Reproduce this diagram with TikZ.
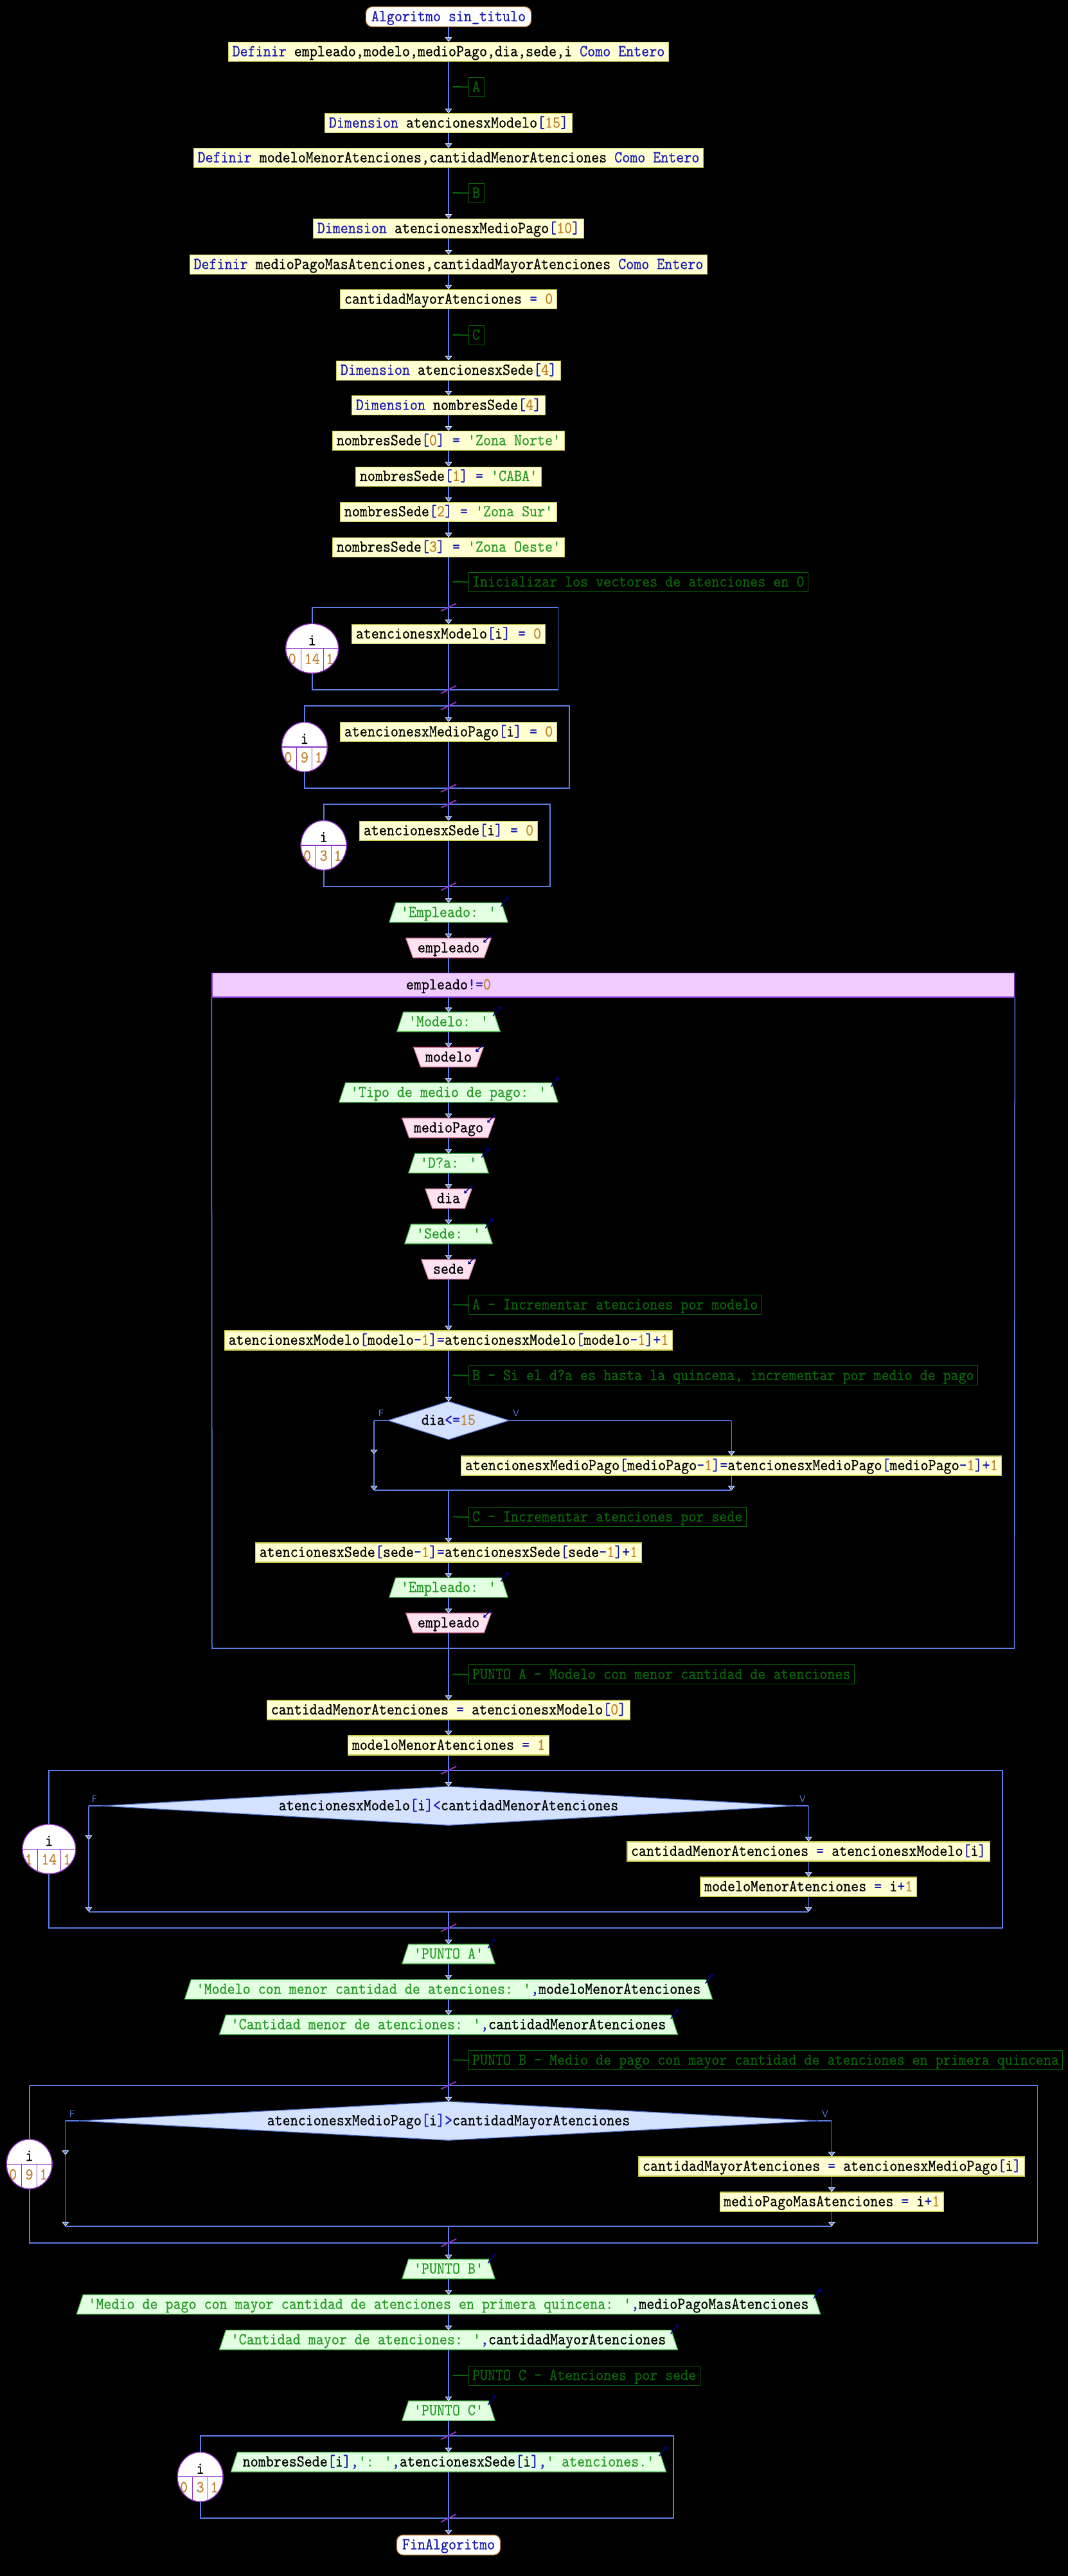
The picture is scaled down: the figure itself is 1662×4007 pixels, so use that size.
\documentclass[tikz,border=0pt]{standalone}
\usepackage{fontspec}
\newfontfamily\pmono{lmmono10-regular.otf}[FakeStretch=0.88,FakeBold=0.5,Ligatures=TeXOff]
\usetikzlibrary{arrows.meta,shapes.geometric}
\pgfdeclarelayer{bg}\pgfdeclarelayer{shapes}\pgfsetlayers{bg,shapes,main}

\definecolor{linec}{HTML}{5A7DE6}
\definecolor{kwc}{HTML}{1A1AB4}
\definecolor{numc}{HTML}{C08030}
\definecolor{strc}{HTML}{2A9A2A}
\definecolor{cmtc}{HTML}{0A640A}
\definecolor{procfill}{HTML}{FFFFD2}
\definecolor{procdraw}{HTML}{C8C850}
\definecolor{outfill}{HTML}{E2FFE2}
\definecolor{outdraw}{HTML}{50C050}
\definecolor{infill}{HTML}{FFE2F0}
\definecolor{indraw}{HTML}{E080A8}
\definecolor{whfill}{HTML}{F0CCFF}
\definecolor{whdraw}{HTML}{9040E0}
\definecolor{iffill}{HTML}{D4E2FF}
\definecolor{ifdraw}{HTML}{5070D0}
\definecolor{loopc}{HTML}{9030C8}
\definecolor{termdraw}{HTML}{C08040}
\definecolor{markc}{HTML}{000090}

% syntax colouring
\newcommand\kwd[1]{\textcolor{kwc}{#1}}
\newcommand\nmb[1]{\textcolor{numc}{#1}}
\newcommand\opr[1]{\textcolor{kwc}{#1}}
\newcommand\strg[1]{\textcolor{strc}{#1}}

\tikzset{
  base/.style={font={\pmono\fontsize{26}{28}\selectfont}, text=black, inner ysep=0pt,
    text height=18pt, text depth=4pt, minimum height=30pt},
  proc/.style={base, rectangle, fill=procfill, draw=procdraw, line width=1.2pt, inner xsep=6pt, anchor=north},
  iotext/.style={base, inner xsep=18pt, anchor=north},
  term/.style={base, rectangle, rounded corners=10pt, fill=white, draw=termdraw, line width=1.2pt,
    inner xsep=8.5pt, text=kwc, anchor=north, minimum height=31pt},
  cmt/.style={base, draw=cmtc, line width=1pt, text=cmtc, inner xsep=6pt, anchor=north west},
  cmtlink/.style={draw=cmtc, line width=2pt},
  conn/.style={draw=linec, line width=1.3pt},
  arr/.style={conn, -{Triangle[width=11pt,length=7pt,color=white,fill=linec,line width=0.8pt]}},
  frame/.style={draw=linec, line width=1.8pt},
  slash/.style={draw=loopc, line width=2pt},
  iomark/.style={draw=markc, line width=1.4pt, -{Straight Barb[length=3pt,width=5pt]}},
  brlabel/.style={font={\sffamily\fontsize{15}{15}\selectfont}, text=linec, inner sep=0pt},
  decision/.style={base, rectangle, inner xsep=0pt},
}

% process box: name, top y, centre x, text
\newcommand\Proc[4]{\node[proc] (#1) at (#3,#2) {#4};}
% output shape (wider at the bottom)
\newcommand\OutIO[4]{%
  \node[iotext] (#1) at (#3,#2) {#4};
  \begin{pgfonlayer}{shapes}
  \filldraw[fill=outfill, draw=outdraw, line width=1.2pt] (#1.south west) -- (#1.south east)
    -- ([xshift=-10pt]#1.north east) -- ([xshift=10pt]#1.north west) -- cycle;
  \end{pgfonlayer}
  \draw[iomark] ([xshift=-11pt,yshift=-6pt]#1.north east) -- ([xshift=1pt,yshift=9pt]#1.north east);}
% input shape (wider at the top)
\newcommand\InIO[4]{%
  \node[iotext] (#1) at (#3,#2) {#4};
  \begin{pgfonlayer}{shapes}
  \filldraw[fill=infill, draw=indraw, line width=1.2pt] (#1.north west) -- (#1.north east)
    -- ([xshift=-11pt]#1.south east) -- ([xshift=11pt]#1.south west) -- cycle;
  \end{pgfonlayer}
  \draw[iomark] ([xshift=1pt,yshift=6pt]#1.north east) -- ([xshift=-12pt,yshift=-7pt]#1.north east);}
% comment: name, top y, text
\newcommand\Cmt[3]{%
  \node[cmt] (#1) at (728.5,#2) {#3};
  \coordinate (#1s) at (704.5,#2+15);
  \draw[cmtlink] (#1s) -- (#1.west);}
% decision: name, centre y, centre x, half width, half height, text
\newcommand\Diam[6]{%
  \node[decision, minimum width={2*#4pt}, minimum height={2*#5pt}] (#1) at (#3,#2) {#6};
  \begin{pgfonlayer}{shapes}
  \filldraw[fill=iffill, draw=ifdraw, line width=1.2pt] (#1.west) -- (#1.north) -- (#1.east) -- (#1.south) -- cycle;
  \end{pgfonlayer}}
% loop counter: name, centre y, centre x, half cell, start, end, step
\newcommand\LoopCirc[7]{%
  \pgfmathsetmacro\lcrx{#4+23.5}
  \node[ellipse, draw=loopc, fill=white, line width=1.2pt, minimum width={2*\lcrx pt},
    minimum height=77pt, inner sep=0pt] (#1) at (#3,#2) {};
  \begin{scope}
    \clip (#1.center) ellipse [x radius=\lcrx pt, y radius=38.5pt];
    \draw[loopc, line width=1.2pt] (#3-\lcrx,#2) -- (#3+\lcrx,#2);
    \draw[loopc, line width=1pt] (#3-#4,#2) -- (#3-#4,#2+40);
    \draw[loopc, line width=1pt] (#3+#4,#2) -- (#3+#4,#2+40);
    \node[base] at (#3,#2-12) {i};
    \node[base, text=numc] at (#3-#4-13.5,#2+17) {#5};
    \node[base, text=numc] at (#3,#2+17) {#6};
    \node[base, text=numc] at (#3+#4+10,#2+17) {#7};
  \end{scope}
  \draw[loopc, line width=1.2pt] (#1.center) ellipse [x radius=\lcrx pt, y radius=38.5pt];}
% loop cut mark on the main line
\newcommand\Slash[1]{\draw[slash] (686,#1+6) -- (710,#1-6);}

\begin{document}
\begin{tikzpicture}[x=1pt,y=-1pt]
\begin{pgfonlayer}{bg}
  \fill[black] (0,0) rectangle (1662,4007);
\end{pgfonlayer}
\useasboundingbox (0,0) rectangle (1662,4007);

% ---------- declarations ----------
\node[term] (start) at (698,10) {Algoritmo sin\_titulo};
\Proc{def1}{65}{698}{\kwd{Definir} empleado,modelo,medioPago,dia,sede,i \kwd{Como Entero}}
\Cmt{cA}{120}{A}
\Proc{dim1}{176}{698}{\kwd{Dimension} atencionesxModelo\opr{[}\nmb{15}\opr{]}}
\Proc{def2}{230}{698}{\kwd{Definir} modeloMenorAtenciones,cantidadMenorAtenciones \kwd{Como Entero}}
\Cmt{cB}{285}{B}
\Proc{dim2}{340}{698}{\kwd{Dimension} atencionesxMedioPago\opr{[}\nmb{10}\opr{]}}
\Proc{def3}{396}{698}{\kwd{Definir} medioPagoMasAtenciones,cantidadMayorAtenciones \kwd{Como Entero}}
\Proc{asgMay}{450}{698}{cantidadMayorAtenciones \opr{=} \nmb{0}}
\Cmt{cC}{506}{C}
\Proc{dim3}{560.5}{698}{\kwd{Dimension} atencionesxSede\opr{[}\nmb{4}\opr{]}}
\Proc{dim4}{615}{698}{\kwd{Dimension} nombresSede\opr{[}\nmb{4}\opr{]}}
\Proc{ns0}{670}{698}{nombresSede\opr{[}\nmb{0}\opr{]} \opr{=} \strg{'Zona Norte'}}
\Proc{ns1}{725.5}{698}{nombresSede\opr{[}\nmb{1}\opr{]} \opr{=} \strg{'CABA'}}
\Proc{ns2}{780.6}{698}{nombresSede\opr{[}\nmb{2}\opr{]} \opr{=} \strg{'Zona Sur'}}
\Proc{ns3}{835.7}{698}{nombresSede\opr{[}\nmb{3}\opr{]} \opr{=} \strg{'Zona Oeste'}}
\Cmt{cInit}{890}{Inicializar los vectores de atenciones en 0}

% ---------- initialisation loops ----------
\draw[frame] (485.7,944.7) rectangle (868.4,1072.7);
\draw[frame] (473.9,1098) rectangle (886,1226);
\draw[frame] (503.7,1250.7) rectangle (856,1379);
\Proc{f1b}{970.7}{698}{atencionesxModelo\opr{[}i\opr{]} \opr{=} \nmb{0}}
\Proc{f2b}{1123}{698}{atencionesxMedioPago\opr{[}i\opr{]} \opr{=} \nmb{0}}
\Proc{f3b}{1276.7}{698}{atencionesxSede\opr{[}i\opr{]} \opr{=} \nmb{0}}
\LoopCirc{lc1}{1008.7}{485.7}{17.5}{0}{14}{1}
\LoopCirc{lc2}{1162}{473.9}{12}{0}{9}{1}
\LoopCirc{lc3}{1314.9}{503.7}{12}{0}{3}{1}

% ---------- reading loop ----------
\OutIO{oE1}{1404.3}{698}{\strg{'Empleado: '}}
\InIO{iE1}{1459.3}{698}{empleado}
\node[rectangle, fill=whfill, draw=whdraw, line width=1.5pt, minimum width=1248.6pt,
  minimum height=37.7pt, inner sep=0pt] (whbar) at (954.3,1532.15) {};
\node[base, minimum height=37.7pt] (wh) at (698,1532.15) {empleado\opr{!=}\nmb{0}};
\draw[conn, line width=1.5pt] (whbar.south west) -- (330,2564);
\draw[conn, line width=1.5pt] (whbar.south east) -- (1578.6,2564);
\draw[frame] (329.3,2564) -- (1579.3,2564);

\OutIO{oMod}{1574.3}{698}{\strg{'Modelo: '}}
\InIO{iMod}{1629.3}{698}{modelo}
\OutIO{oTipo}{1684.3}{698}{\strg{'Tipo de medio de pago: '}}
\InIO{iMP}{1739.3}{698}{medioPago}
\OutIO{oDia}{1794.3}{698}{\strg{'D?a: '}}
\InIO{iDia}{1849.3}{698}{dia}
\OutIO{oSede}{1904.3}{698}{\strg{'Sede: '}}
\InIO{iSede}{1959.3}{698}{sede}
\Cmt{cA2}{2014.3}{A - Incrementar atenciones por modelo}
\Proc{asgM}{2069.3}{698}{atencionesxModelo\opr{[}modelo\opr{-}\nmb{1}\opr{]}\opr{=}atencionesxModelo\opr{[}modelo\opr{-}\nmb{1}\opr{]}\opr{+}\nmb{1}}
\Cmt{cB2}{2124.3}{B - Si el d?a es hasta la quincena, incrementar por medio de pago}
\Diam{if1}{2209.5}{698}{94}{29.5}{dia\opr{<=}\nmb{15}}
\Proc{asgMP}{2264.3}{1138.3}{atencionesxMedioPago\opr{[}medioPago\opr{-}\nmb{1}\opr{]}\opr{=}atencionesxMedioPago\opr{[}medioPago\opr{-}\nmb{1}\opr{]}\opr{+}\nmb{1}}
\Cmt{cC2}{2344.3}{C - Incrementar atenciones por sede}
\Proc{asgS}{2399.3}{698}{atencionesxSede\opr{[}sede\opr{-}\nmb{1}\opr{]}\opr{=}atencionesxSede\opr{[}sede\opr{-}\nmb{1}\opr{]}\opr{+}\nmb{1}}
\OutIO{oE2}{2454.3}{698}{\strg{'Empleado: '}}
\InIO{iE2}{2509.3}{698}{empleado}

% branches of dia<=15
\coordinate (if1F) at (582,2209.5);
\coordinate (if1V) at (1138.3,2209.5);
\coordinate (if1Fm) at (582,2262);
\coordinate (if1Fj) at (582,2318.3);
\coordinate (if1Vj) at (1138.3,2318.3);
\coordinate (if1J) at (698,2318.3);
\draw[frame] (if1.west) -- (if1F);
\draw[frame] (if1.east) -- (if1V);
\draw[arr] (if1F) -- (if1Fm);
\draw[arr] (if1Fm) -- (if1Fj);
\draw[arr] (if1V) -- (asgMP.north);
\draw[arr] (asgMP.south) -- (if1Vj);
\draw[frame] (if1Fj) -- (if1Vj);
\node[brlabel] at (593,2198.5) {F};
\node[brlabel] at (803,2198.5) {V};

% ---------- point A ----------
\Cmt{cPA}{2589.3}{PUNTO A - Modelo con menor cantidad de atenciones}
\Proc{asgCM}{2644.3}{698}{cantidadMenorAtenciones \opr{=} atencionesxModelo\opr{[}\nmb{0}\opr{]}}
\Proc{asgMM}{2699.3}{698}{modeloMenorAtenciones \opr{=} \nmb{1}}
\draw[frame] (76.3,2753.7) rectangle (1560.3,2998.7);
\Diam{if2}{2809}{698}{540}{30}{atencionesxModelo\opr{[}i\opr{]}\opr{<}cantidadMenorAtenciones}
\Proc{cMA}{2864.3}{1258.2}{cantidadMenorAtenciones \opr{=} atencionesxModelo\opr{[}i\opr{]}}
\Proc{mMA}{2919.3}{1258.2}{modeloMenorAtenciones \opr{=} i\opr{+}\nmb{1}}
\coordinate (if2F) at (138,2809);
\coordinate (if2V) at (1258.2,2809);
\coordinate (if2Fm) at (138,2862);
\coordinate (if2Fj) at (138,2973.7);
\coordinate (if2Vj) at (1258.2,2973.7);
\coordinate (if2J) at (698,2973.7);
\draw[frame] (if2.west) -- (if2F);
\draw[frame] (if2.east) -- (if2V);
\draw[arr] (if2F) -- (if2Fm);
\draw[arr] (if2Fm) -- (if2Fj);
\draw[arr] (if2V) -- (cMA.north);
\draw[arr] (cMA.south) -- (mMA.north);
\draw[arr] (mMA.south) -- (if2Vj);
\draw[frame] (if2Fj) -- (if2Vj);
\node[brlabel] at (147,2798) {F};
\node[brlabel] at (1249,2798) {V};
\LoopCirc{lc4}{2876.2}{76.3}{18}{1}{14}{1}

\OutIO{oPA}{3024.3}{698}{\strg{'PUNTO A'}}
\OutIO{oMod2}{3079.3}{698}{\strg{'Modelo con menor cantidad de atenciones: '}\opr{,}modeloMenorAtenciones}
\OutIO{oCM}{3134.3}{698}{\strg{'Cantidad menor de atenciones: '}\opr{,}cantidadMenorAtenciones}

% ---------- point B ----------
\Cmt{cPB}{3189.3}{PUNTO B - Medio de pago con mayor cantidad de atenciones en primera quincena}
\draw[frame] (45.6,3243.7) rectangle (1614.4,3488.7);
\Diam{if3}{3299}{698}{575}{30}{atencionesxMedioPago\opr{[}i\opr{]}\opr{>}cantidadMayorAtenciones}
\Proc{cMay}{3354.3}{1294.3}{cantidadMayorAtenciones \opr{=} atencionesxMedioPago\opr{[}i\opr{]}}
\Proc{mpMA}{3409.3}{1294.3}{medioPagoMasAtenciones \opr{=} i\opr{+}\nmb{1}}
\coordinate (if3F) at (101.8,3299);
\coordinate (if3V) at (1294.3,3299);
\coordinate (if3Fm) at (101.8,3352);
\coordinate (if3Fj) at (101.8,3463);
\coordinate (if3Vj) at (1294.3,3463);
\coordinate (if3J) at (698,3463);
\draw[frame] (if3.west) -- (if3F);
\draw[frame] (if3.east) -- (if3V);
\draw[arr] (if3F) -- (if3Fm);
\draw[arr] (if3Fm) -- (if3Fj);
\draw[arr] (if3V) -- (cMay.north);
\draw[arr] (cMay.south) -- (mpMA.north);
\draw[arr] (mpMA.south) -- (if3Vj);
\draw[frame] (if3Fj) -- (if3Vj);
\node[brlabel] at (112,3288) {F};
\node[brlabel] at (1284,3288) {V};
\LoopCirc{lc5}{3366.2}{45.6}{12}{0}{9}{1}

\OutIO{oPB}{3514.3}{698}{\strg{'PUNTO B'}}
\OutIO{oMP}{3569.4}{698}{\strg{'Medio de pago con mayor cantidad de atenciones en primera quincena: '}\opr{,}medioPagoMasAtenciones}
\OutIO{oCMay}{3624.5}{698}{\strg{'Cantidad mayor de atenciones: '}\opr{,}cantidadMayorAtenciones}

% ---------- point C ----------
\Cmt{cPC}{3679.7}{PUNTO C - Atenciones por sede}
\OutIO{oPC}{3734.8}{698}{\strg{'PUNTO C'}}
\draw[frame] (311.6,3788.6) rectangle (1048.3,3917);
\OutIO{oLoop}{3814.5}{698}{nombresSede\opr{[}i\opr{]}\opr{,}\strg{': '}\opr{,}atencionesxSede\opr{[}i\opr{]}\opr{,}\strg{' atenciones.'}}
\LoopCirc{lc6}{3852.8}{311.6}{12}{0}{3}{1}
\node[term] (fin) at (698,3942.5) {FinAlgoritmo};

% ---------- main line ----------
\foreach \a/\b in {start/def1, def1/dim1, dim1/def2, def2/dim2, dim2/def3, def3/asgMay,
  asgMay/dim3, dim3/dim4, dim4/ns0, ns0/ns1, ns1/ns2, ns2/ns3, ns3/f1b, f1b/f2b, f2b/f3b,
  f3b/oE1, oE1/iE1, wh/oMod, oMod/iMod, iMod/oTipo, oTipo/iMP, iMP/oDia, oDia/iDia,
  iDia/oSede, oSede/iSede, iSede/asgM, asgM/if1, asgS/oE2, oE2/iE2, iE2/asgCM,
  asgCM/asgMM, asgMM/if2, oPA/oMod2, oMod2/oCM, oCM/if3, oPB/oMP, oMP/oCMay,
  oCMay/oPC, oPC/oLoop, oLoop/fin}
  {\draw[arr] (\a.south) -- (\b.north);}
\draw[conn] (iE1.south) -- (wh.north);
\draw[arr] (if1J) -- (asgS.north);
\draw[arr] (if2J) -- (oPA.north);
\draw[arr] (if3J) -- (oPB.north);

% loop cut marks
\foreach \y in {944.7,1072.7,1098,1226,1250.7,1379,2753.7,2998.7,3243.7,3488.7,3788.6,3917}
  {\Slash{\y}}
\end{tikzpicture}
\end{document}
